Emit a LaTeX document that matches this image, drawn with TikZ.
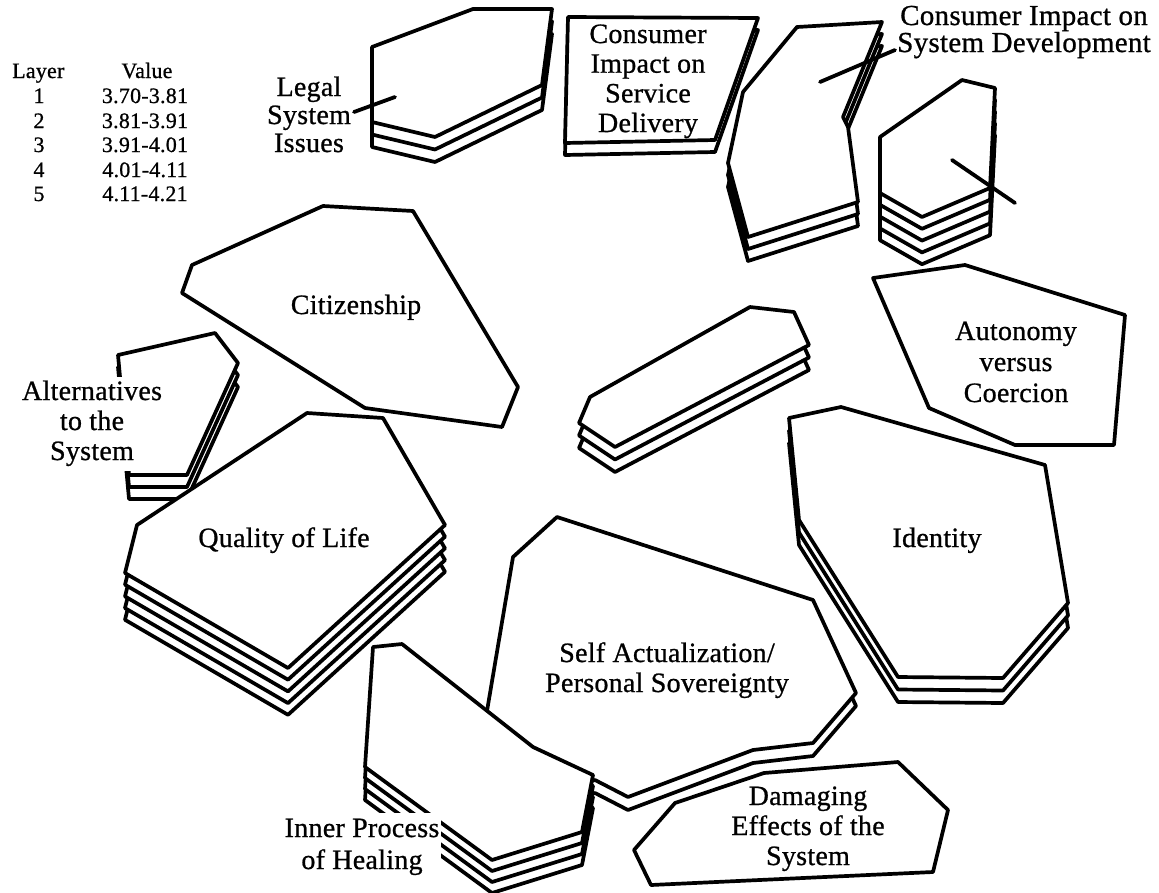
\documentclass[tikz,border=0pt]{standalone}
\usepackage{fontspec}
\setmainfont{Liberation Serif}[LetterSpace=1,FakeBold=0.8]
\newcommand\ml[1]{\begin{tabular}[t]{@{}c@{}}#1\end{tabular}}
\tikzset{
  poly/.style={draw=black, fill=white, line width=3.7pt, line join=round},
  leader/.style={draw=black, line width=3.8pt, line cap=round},
  lab/.style={anchor=base, inner sep=0pt, font=\fontsize{28}{30}\selectfont},
  occl/.style={fill=white, inner sep=2pt},
  legend/.style={anchor=base, inner sep=0pt, font=\fontsize{22}{24}\selectfont},
}
\newcommand\layered[3]{\foreach \ly in {#1,...,0}{\path[poly,yshift={-\ly*#2pt}] #3;}}
\begin{document}
\begin{tikzpicture}[x=1pt,y=-1pt]
\useasboundingbox[fill=white] (0,0) rectangle (1159,892);

% legend
\node[legend, anchor=base west] (layerhd) at (12,78) {Layer};
\node[legend] (valuehd) at (147,78) {Value};
\foreach \n/\v/\y in {1/3.70-3.81/103, 2/3.81-3.91/128, 3/3.91-4.01/152, 4/4.01-4.11/177, 5/4.11-4.21/201}{
  \node[legend] (ln\n) at (39,\y) {\n};
  \node[legend] (lv\n) at (145,\y) {\v};
}

% Legal System Issues
\layered{2}{12.5}{(372,47) -- (473,9) -- (552,9) -- (542,85) -- (435,137) -- (372,122) -- cycle}
% Consumer Impact on Service Delivery
\layered{1}{12}{(568,17) -- (758,18) -- (715,140) -- (565,143) -- cycle}
% Consumer Impact on System Development
\layered{2}{12}{(797,27) -- (882,22) -- (843,117) -- (848,127) -- (858,202) -- (748,237) -- (728,163) -- (743,92) -- cycle}
% hexagon stack
\layered{4}{11.8}{(880,137) -- (962,80) -- (995,88) -- (990,188) -- (922,217) -- (880,193) -- cycle}
% Citizenship
\path[poly] (182,293) -- (192,265) -- (323,206) -- (413,211) -- (518,387) -- (502,427) -- (365,408) -- cycle;
% Autonomy
\path[poly] (873,278) -- (965,265) -- (1125,315) -- (1114,445) -- (1015,445) -- (929,408) -- cycle;
% middle stack
\layered{2}{12.5}{(590,397) -- (750,307) -- (794,312) -- (809,345) -- (615,447) -- (579,423) -- cycle}
% Alternatives
\layered{2}{12}{(118,355) -- (215,333) -- (238,363) -- (187,475) -- (129,475) -- cycle}
% Quality of Life
\layered{4}{11.7}{(137,525) -- (307,413) -- (383,418) -- (445,525) -- (288,668) -- (125,573) -- cycle}
% Identity
\layered{2}{12.5}{(789,418) -- (841,407) -- (1045,465) -- (1068,603) -- (1003,678) -- (898,677) -- (799,520) -- cycle}
% Self Actualization
\layered{1}{13}{(557,517) -- (813,600) -- (856,693) -- (813,743) -- (753,750) -- (628,797) -- (595,780) -- (560,790) -- (480,740) -- (487,711) -- (513,557) -- cycle}
% Inner Process
\layered{3}{11}{(373,647) -- (402,644) -- (533,747) -- (593,775) -- (582,832) -- (492,860) -- (365,767) -- cycle}
% Damaging
\path[poly] (634,850) -- (675,803) -- (764,773) -- (898,762) -- (948,810) -- (933,872) -- (651,885) -- cycle;

% leaders
\coordinate (legalA) at (354,112);
\coordinate (legalB) at (395,97);
\draw[leader] (legalA) -- (legalB);
\coordinate (sdA) at (895,50);
\coordinate (sdB) at (820,82);
\draw[leader] (sdA) -- (sdB);
\coordinate (hxA) at (952,160);
\coordinate (hxB) at (1015,203);
\draw[leader] (hxA) -- (hxB);

% labels
\node[lab, font=\fontsize{28}{28}\selectfont] (legal) at (309,96) {\ml{Legal\\System\\Issues}};
\node[lab, font=\fontsize{28}{29.7}\selectfont] (csd) at (648,43) {\ml{Consumer\\Impact on\\Service\\Delivery}};
\node[lab, font=\fontsize{29}{23}\selectfont] (csysd) at (1024,25) {\ml{Consumer Impact on\\System Development}};
\node[lab, font=\fontsize{28}{31}\selectfont] (auto) at (1016,340) {\ml{Autonomy\\versus\\Coercion}};
\node[lab] (ident) at (937,547) {Identity};
\node[lab] (citi) at (356,314) {Citizenship};
\node[lab] (qol) at (284,547) {Quality of Life};
\node[lab] (self) at (667,662) {\ml{Self Actualization/\\Personal Sovereignty}};
\node[lab] (dmg) at (808,805) {\ml{Damaging\\Effects of the\\System}};
\node[lab, occl, font=\fontsize{28}{32}\selectfont] (inner) at (362,837) {\ml{Inner Process\\of Healing}};
\node[lab, occl] (alt) at (92,400) {\ml{Alternatives\\to the\\System}};
\end{tikzpicture}
\end{document}
